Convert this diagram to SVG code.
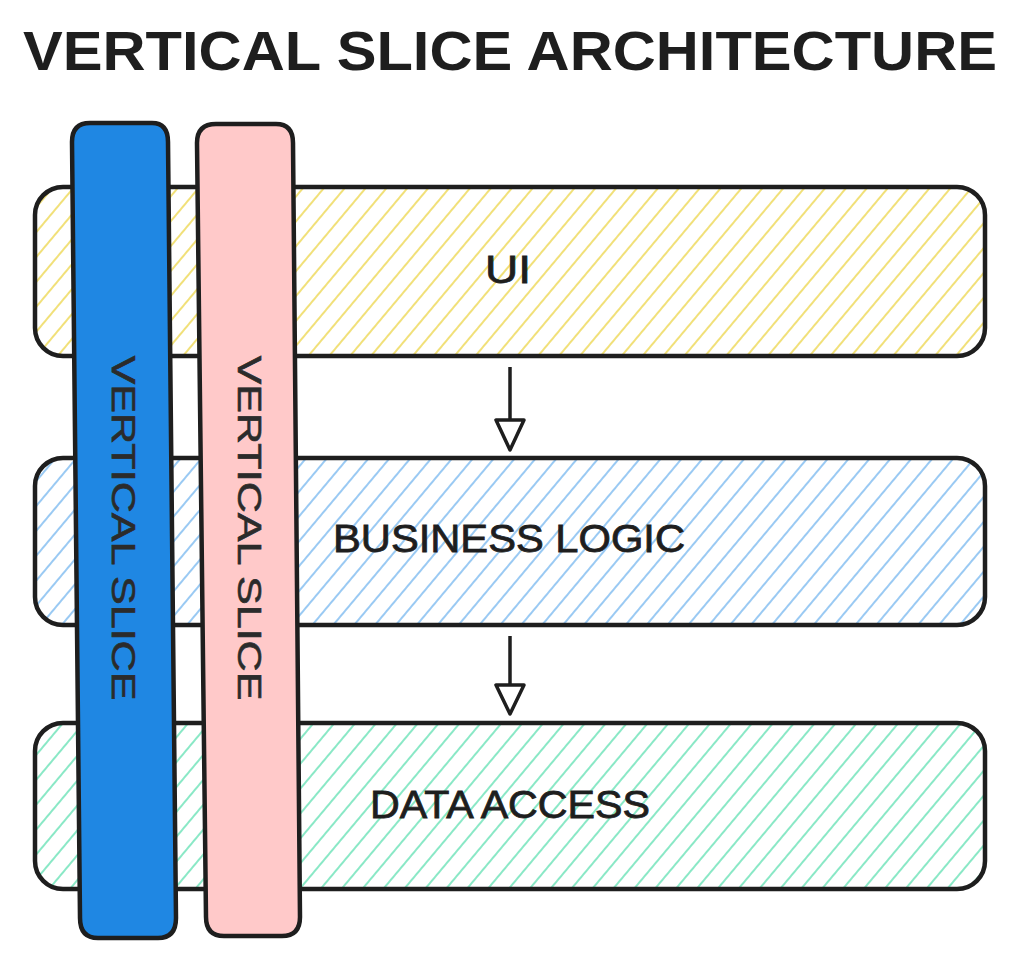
<svg xmlns="http://www.w3.org/2000/svg" width="1019" height="957" viewBox="0 0 1019 957">
<style>
.title{font-family:"Liberation Sans",Arial,sans-serif;font-size:56px;font-weight:bold;fill:#1e1e1e;}
.lbl{font-family:"Liberation Sans",Arial,sans-serif;font-size:38px;fill:#1e1e1e;stroke:#1e1e1e;stroke-width:0.8;}
.vlbl{font-family:"Liberation Sans",Arial,sans-serif;font-size:34px;fill:#2b2b2b;stroke:#2b2b2b;stroke-width:0.6;}
.layer{stroke:#1e1e1e;stroke-width:4.5;}
.bar{stroke:#1e1e1e;stroke-width:4.5;stroke-linejoin:round;}
.conn{stroke:#1e1e1e;stroke-width:3.5;fill:none;}
.head{stroke:#1e1e1e;stroke-width:3.5;fill:#fff;stroke-linejoin:round;}
</style>
<defs>
<pattern id="hy" width="16" height="16" patternUnits="userSpaceOnUse" patternTransform="rotate(40)"><rect width="16" height="16" fill="#fff"/><line x1="1" y1="0" x2="1" y2="16" stroke="#f0dd6a" stroke-width="1.8"/></pattern>
<pattern id="hb" width="16" height="16" patternUnits="userSpaceOnUse" patternTransform="rotate(40)"><rect width="16" height="16" fill="#fff"/><line x1="1" y1="0" x2="1" y2="16" stroke="#8fc4f2" stroke-width="1.8"/></pattern>
<pattern id="hg" width="16" height="16" patternUnits="userSpaceOnUse" patternTransform="rotate(40)"><rect width="16" height="16" fill="#fff"/><line x1="1" y1="0" x2="1" y2="16" stroke="#7de6c0" stroke-width="1.8"/></pattern>
</defs>
<rect width="1019" height="957" fill="#fff"/>
<text class="title" x="510" y="70" text-anchor="middle" textLength="974" lengthAdjust="spacingAndGlyphs">VERTICAL SLICE ARCHITECTURE</text>

<g id="ui">
<rect class="layer" x="35" y="187" width="950" height="169" rx="28" fill="url(#hy)"/>
<text class="lbl" x="508" y="283" text-anchor="middle" textLength="46" lengthAdjust="spacingAndGlyphs">UI</text>
</g>
<g id="business-logic">
<rect class="layer" x="35" y="458" width="950" height="167" rx="28" fill="url(#hb)"/>
<text class="lbl" x="509" y="552" text-anchor="middle" textLength="352" lengthAdjust="spacingAndGlyphs">BUSINESS LOGIC</text>
</g>
<g id="data-access">
<rect class="layer" x="35" y="723" width="950" height="166" rx="28" fill="url(#hg)"/>
<text class="lbl" x="510" y="818" text-anchor="middle" textLength="280" lengthAdjust="spacingAndGlyphs">DATA ACCESS</text>
</g>

<g id="connectors">
<line class="conn" x1="510" y1="367" x2="510" y2="420"/>
<polygon class="head" points="496,420 524,420 510,450"/>
<line class="conn" x1="510" y1="636" x2="510" y2="685"/>
<polygon class="head" points="496,685 524,685 510,714"/>
</g>

<g id="slice-blue">
<path class="bar" fill="#1f87e3" d="M90,123 L152,123 Q168,123 168,142 L176,918 Q176,938 158,938 L98,938 Q80,938 80,918 L72,142 Q72,123 90,123 Z"/>
<text class="vlbl" transform="translate(112,528) rotate(90)" text-anchor="middle" textLength="345" lengthAdjust="spacingAndGlyphs">VERTICAL SLICE</text>
</g>
<g id="slice-pink">
<path class="bar" fill="#ffc9c9" d="M216,124 L276,124 Q293,124 293,143 L300,917 Q300,936 282,936 L224,936 Q206,936 206,917 L197,143 Q197,124 216,124 Z"/>
<text class="vlbl" transform="translate(238,528) rotate(90)" text-anchor="middle" textLength="345" lengthAdjust="spacingAndGlyphs">VERTICAL SLICE</text>
</g>
</svg>
